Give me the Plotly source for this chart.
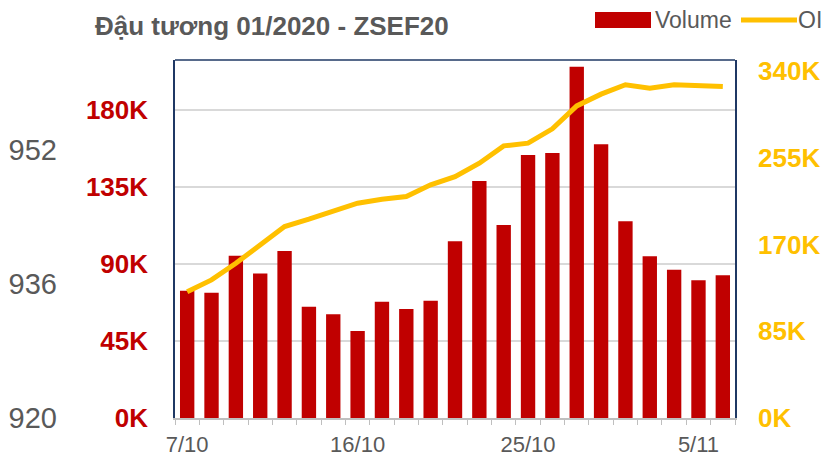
import plotly.graph_objects as go

dates = ["7/10", "8/10", "9/10", "10/10", "11/10", "14/10", "15/10", "16/10",
         "17/10", "18/10", "21/10", "22/10", "23/10", "24/10", "25/10",
         "28/10", "29/10", "30/10", "31/10", "1/11", "4/11", "5/11", "6/11"]
volume = [74400, 73200, 94900, 84500, 97600, 65100, 60600, 50800, 68000, 63700,
          68600, 103400, 138500, 112800, 153700, 155000, 205300, 160000, 115100,
          94500, 86700, 80500, 83400]
oi = [123900, 135400, 151700, 170400, 187700, 194900, 202400, 210600, 214500,
      217100, 228600, 236700, 249800, 266800, 269500, 283500, 306000, 317500,
      326700, 323400, 326700, 326400, 325000]
vol_ticks = [0, 45000, 90000, 135000, 180000]
vol_labels = ["0K", "45K", "90K", "135K", "180K"]
oi_ticks = [0, 85000, 170000, 255000, 340000]
oi_labels = ["0K", "85K", "170K", "255K", "340K"]
price_ticks = [920, 936, 952]
title_text = "Đậu tương 01/2020 - ZSEF20"

RED = "#C00000"
YEL = "#FFC000"
GRAY = "#595959"
NAVY = "#1F3864"
FONT = "Liberation Sans, Arial, sans-serif"

x_ticktext = [d if i % 7 == 0 else "" for i, d in enumerate(dates)]

fig = go.Figure()
fig.add_trace(go.Bar(x=dates, y=volume, name="Volume", marker=dict(color=RED, line=dict(width=0)),
                     yaxis="y"))
fig.add_trace(go.Scatter(x=dates, y=oi, name="OI", mode="lines",
                         line=dict(color=YEL, width=5), yaxis="y2"))
fig.add_trace(go.Scatter(x=[], y=[], yaxis="y3", showlegend=False, hoverinfo="skip"))

L, R, T, B = 5, 90, 60, 39
W, H = 825, 457
pw = W - L - R
ph = H - T - B
x0 = (175 - L) / pw

fig.update_layout(
    width=W, height=H,
    margin=dict(l=L, r=R, t=T, b=B, autoexpand=False),
    paper_bgcolor="white", plot_bgcolor="white",
    showlegend=False,
    bargap=0.41,
    font=dict(family=FONT, color=GRAY),
    xaxis=dict(domain=[x0, 1], type="category", categoryorder="array", categoryarray=dates,
               tickmode="array", tickvals=dates, ticktext=x_ticktext, tickangle=0,
               tickson="boundaries", ticks="outside", ticklen=5, tickcolor="#BFBFBF",
               showline=True, linecolor="#BFBFBF", linewidth=1.5, automargin=False,
               showgrid=False, tickfont=dict(size=22, color=GRAY), ticklabelstandoff=6),
    yaxis=dict(range=[0, 209300], tickvals=vol_ticks, ticktext=vol_labels,
               tickfont=dict(size=26, color=RED, family=FONT, weight="bold"),
               showgrid=True, gridcolor="#D9D9D9", gridwidth=1.5, automargin=False,
               showline=True, linecolor=NAVY, linewidth=1.5, mirror=True,
               zeroline=False, ticks="", ticklabelstandoff=20),
    yaxis2=dict(range=[0, 351000], tickvals=oi_ticks, ticktext=oi_labels, overlaying="y",
                side="right", anchor="x", automargin=False,
                tickfont=dict(size=26, color=YEL, family=FONT, weight="bold"),
                showgrid=False, zeroline=False, showline=False, ticks="", ticklabelstandoff=22),
    yaxis3=dict(range=[920, 962.7], tickvals=price_ticks, overlaying="y", side="left",
                anchor="free", position=(57 - L) / pw, automargin=False,
                tickfont=dict(size=29, color=GRAY, family=FONT),
                showgrid=False, zeroline=False, showline=False, ticks=""),
)

ypx = lambda py: 1 + (T - py) / ph
xpx = lambda px: (px - L) / pw

# top border of plot area
fig.add_shape(type="line", xref="paper", yref="paper", x0=x0, x1=1, y0=1, y1=1,
              line=dict(color=NAVY, width=1.5))

# title
fig.add_annotation(text="<b>" + title_text + "</b>", xref="paper", yref="paper",
                   x=xpx(93), y=ypx(26), xanchor="left", yanchor="middle",
                   showarrow=False, font=dict(size=26, color=GRAY, family=FONT))

# custom legend
fig.add_shape(type="rect", xref="paper", yref="paper", x0=xpx(595), x1=xpx(651),
              y0=ypx(28), y1=ypx(12), fillcolor=RED, line=dict(width=0))
fig.add_annotation(text="Volume", xref="paper", yref="paper", x=xpx(653), y=ypx(20),
                   xanchor="left", yanchor="middle", showarrow=False,
                   font=dict(size=23, color=GRAY, family=FONT))
fig.add_shape(type="line", xref="paper", yref="paper", x0=xpx(741), x1=xpx(797),
              y0=ypx(20), y1=ypx(20), line=dict(color=YEL, width=5))
fig.add_annotation(text="OI", xref="paper", yref="paper", x=xpx(796), y=ypx(20),
                   xanchor="left", yanchor="middle", showarrow=False,
                   font=dict(size=23, color=GRAY, family=FONT))

fig.write_html("out.html", config={"displayModeBar": False},
               post_script="document.body.style.margin='0';document.body.style.overflow='hidden';")
